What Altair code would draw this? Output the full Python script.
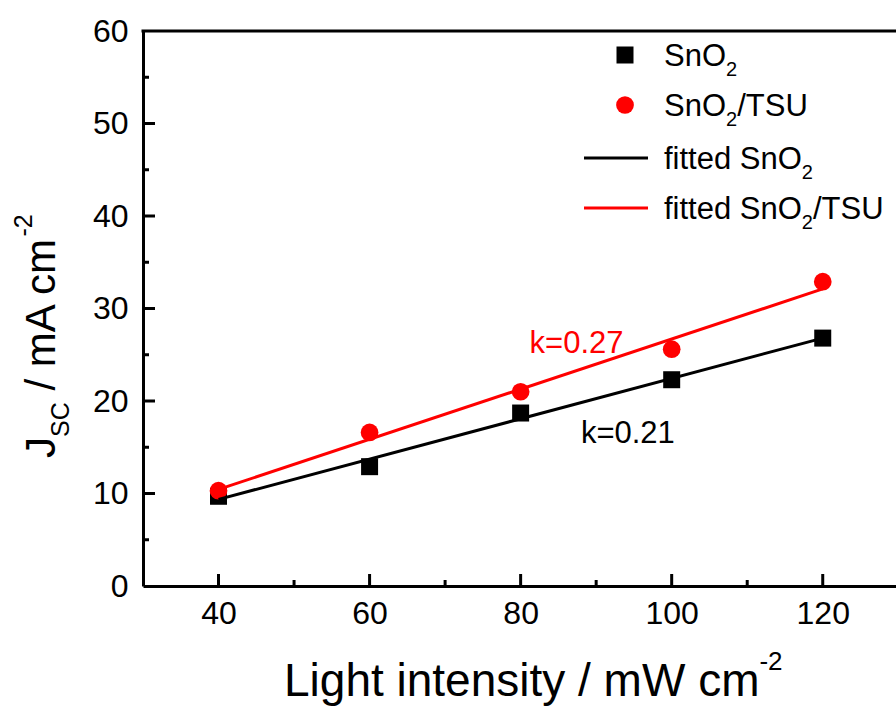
import altair as alt
import pandas as pd

# ---------------- data ----------------
intensity = [40, 60, 80, 100, 120]
jsc_sno2 = [9.7, 12.9, 18.7, 22.3, 26.8]
jsc_tsu = [10.3, 16.6, 21.0, 25.6, 32.9]

x_major = [40, 60, 80, 100, 120]
x_minor = [50, 70, 90, 110]
y_labels = [0, 10, 20, 30, 40, 50, 60]
y_major = [10, 20, 30, 40, 50]
y_minor = [5, 15, 25, 35, 45, 55]

ann_text = ["k=0.27", "k=0.21"]
ann_x = [87.4, 94.2]
ann_y = [25.2, 15.45]
ann_color = ["#ff0000", "#000000"]

RED = "#ff0000"
BLACK = "#000000"
FONT = "Liberation Sans"

W, H = 753, 555
PAD = {"left": 143, "top": 31, "right": 0, "bottom": 121}

df = pd.DataFrame({
    "intensity": intensity * 2,
    "jsc": jsc_sno2 + jsc_tsu,
    "series": ["SnO2"] * len(intensity) + ["SnO2/TSU"] * len(intensity),
})

x_scale = alt.Scale(domain=[30, 129.7], nice=False, zero=False)
y_scale = alt.Scale(domain=[0, 60], nice=False, zero=False)

x_axis = alt.Axis(values=x_major, title=None, grid=False, ticks=False, tickSize=0,
                  domainColor=BLACK, domainWidth=3, labelFont=FONT, labelFontSize=32,
                  labelColor=BLACK, labelPadding=12, format="d")
y_axis = alt.Axis(values=y_labels, title=None, grid=False, ticks=False, tickSize=0,
                  domainColor=BLACK, domainWidth=3, labelFont=FONT, labelFontSize=32,
                  labelColor=BLACK, labelPadding=15, format="d")

X = lambda f: alt.X(f, scale=x_scale, axis=x_axis)
Y = lambda f: alt.Y(f, scale=y_scale, axis=y_axis)

base = alt.Chart(df)

squares = base.transform_filter(alt.datum.series == "SnO2").mark_point(
    shape="square", filled=True, size=289, color=BLACK, opacity=1
).encode(x=X("intensity:Q"), y=Y("jsc:Q"))

circles = base.transform_filter(alt.datum.series == "SnO2/TSU").mark_point(
    shape="circle", filled=True, size=314, color=RED, opacity=1
).encode(x=X("intensity:Q"), y=Y("jsc:Q"))

fit_black = base.transform_filter(alt.datum.series == "SnO2").transform_regression(
    "intensity", "jsc"
).mark_line(color=BLACK, strokeWidth=3).encode(x=X("intensity:Q"), y=Y("jsc:Q"))

fit_red = base.transform_filter(alt.datum.series == "SnO2/TSU").transform_regression(
    "intensity", "jsc"
).mark_line(color=RED, strokeWidth=3).encode(x=X("intensity:Q"), y=Y("jsc:Q"))

# inward ticks
def xticks(vals, length):
    return alt.Chart(pd.DataFrame({"v": vals})).mark_rule(color=BLACK, strokeWidth=3).encode(
        x=X("v:Q"), y=alt.value(H), y2=alt.value(H - length))

def yticks(vals, length):
    return alt.Chart(pd.DataFrame({"v": vals})).mark_rule(color=BLACK, strokeWidth=3).encode(
        y=Y("v:Q"), x=alt.value(0), x2=alt.value(length))

top_border = alt.Chart(pd.DataFrame({"a": [0]})).mark_rule(color=BLACK, strokeWidth=3).encode(
    x=alt.value(-1.5), x2=alt.value(W + 5), y=alt.value(0))

ann_df = pd.DataFrame({"t": ann_text, "x": ann_x, "y": ann_y, "c": ann_color})
annotations = alt.Chart(ann_df).mark_text(
    font=FONT, fontSize=31, align="center", baseline="alphabetic"
).encode(x=X("x:Q"), y=Y("y:Q"), text="t:N", color=alt.Color("c:N", scale=None))

# ---------- rich text helper (sub/superscripts) ----------
WID = {"S": .667, "n": .556, "O": .778, "/": .278, "T": .611, "U": .722, "f": .278,
       "i": .222, "t": .278, "e": .556, "d": .556, " ": .278, "2": .556, "J": .5,
       "C": .722, "m": .833, "A": .667, "c": .5, "-": .333, "L": .556, "g": .556,
       "h": .556, "s": .5, "y": .5, "W": .944}

def tw(s, size):
    return sum(WID.get(ch, .556) for ch in s) * size

def rich(segments, x0, y0, color=BLACK, angle=0):
    layers = []
    cum = 0.0
    for text, size, shift in segments:
        lead = len(text) - len(text.lstrip(" "))
        cum += tw(" " * lead, size)
        body = text.strip(" ")
        if angle == 0:
            xx, yy = x0 + cum, y0 + shift
        else:
            xx, yy = x0 + shift, y0 - cum
        kw = dict(font=FONT, fontSize=size, align="left", baseline="alphabetic", color=color)
        if angle:
            kw["angle"] = angle
        layers.append(
            alt.Chart(pd.DataFrame({"t": [body]})).mark_text(**kw).encode(
                x=alt.value(xx), y=alt.value(yy), text="t:N"))
        cum += tw(text.lstrip(" "), size)
    return layers

# axis titles
xt_segs = [("Light intensity / mW cm", 46, 0), ("-2", 26, -26)]
x_title = rich(xt_segs, 284 - 143, 696 - 31)

yt_segs = [("J", 42, 0), ("SC", 25, 14), (" / mA cm", 42, 0), ("-2", 25, -23)]
y_title = rich(yt_segs, 55 - 143, 458 - 31, angle=270)

# legend
leg_sym_x = 482
leg_sq = alt.Chart(pd.DataFrame({"a": [0]})).mark_point(
    shape="square", filled=True, size=289, color=BLACK, opacity=1
).encode(x=alt.value(leg_sym_x), y=alt.value(24))
leg_ci = alt.Chart(pd.DataFrame({"a": [0]})).mark_point(
    shape="circle", filled=True, size=314, color=RED, opacity=1
).encode(x=alt.value(leg_sym_x), y=alt.value(74))
leg_l1 = alt.Chart(pd.DataFrame({"a": [0]})).mark_rule(color=BLACK, strokeWidth=3).encode(
    x=alt.value(441), x2=alt.value(505), y=alt.value(127))
leg_l2 = alt.Chart(pd.DataFrame({"a": [0]})).mark_rule(color=RED, strokeWidth=3).encode(
    x=alt.value(441), x2=alt.value(505), y=alt.value(177))

LX = 521
legend_text = (
    rich([("SnO", 31, 0), ("2", 20, 10)], LX, 35)
    + rich([("SnO", 31, 0), ("2", 20, 10), ("/TSU", 31, 0)], LX, 85)
    + rich([("fitted SnO", 31, 0), ("2", 20, 10)], LX, 138)
    + rich([("fitted SnO", 31, 0), ("2", 20, 10), ("/TSU", 31, 0)], LX, 188)
)

layers = [squares, circles, fit_black, fit_red,
          xticks(x_major, 12), xticks(x_minor, 6), yticks(y_major, 12), yticks(y_minor, 6),
          top_border, annotations, leg_sq, leg_ci, leg_l1, leg_l2] + legend_text + x_title + y_title

chart = alt.layer(*layers).properties(
    width=W, height=H,
    autosize=alt.AutoSizeParams(type="none"),
    padding=PAD,
    background="white",
).configure_view(stroke=None)

chart.save("out.html", embed_options={"renderer": "svg", "actions": False})
